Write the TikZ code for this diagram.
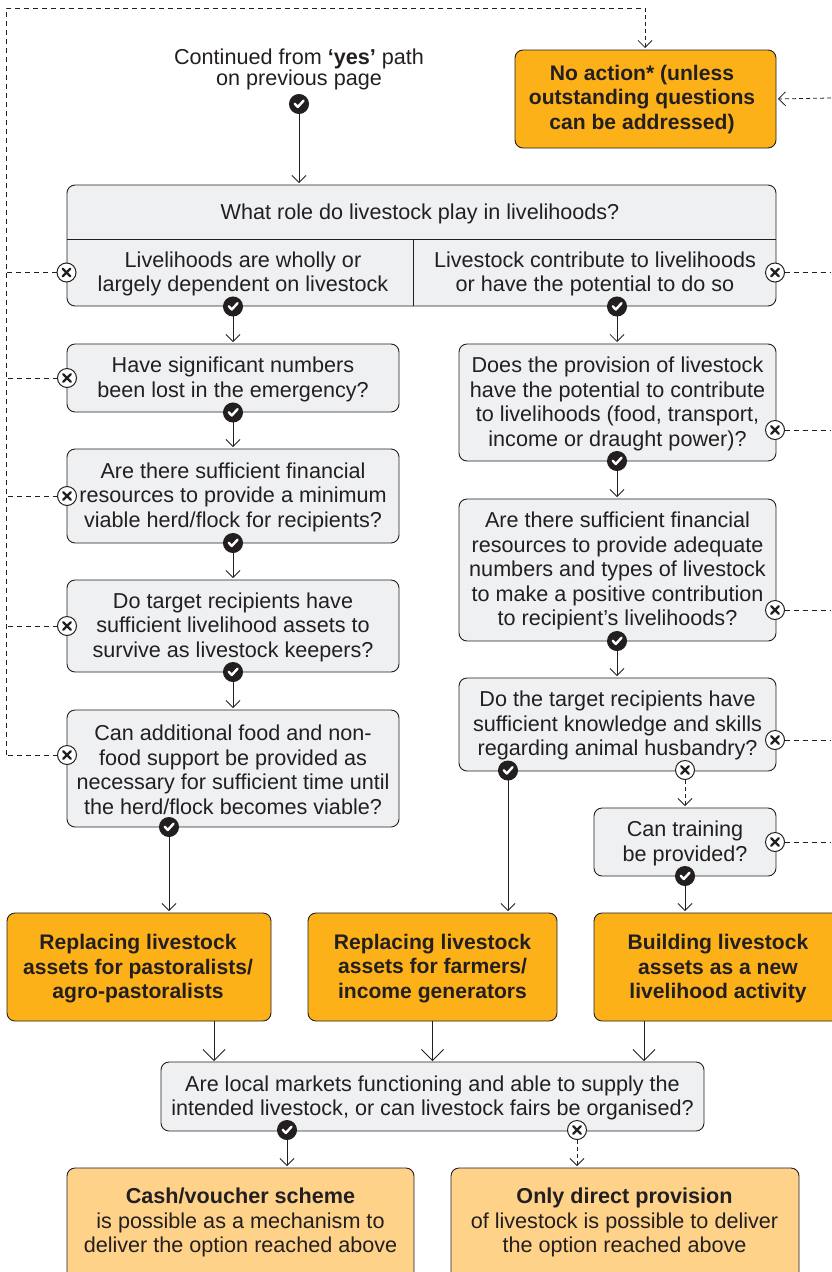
\documentclass[tikz,border=0pt]{standalone}
\usepackage{fontspec}
\setmainfont{Liberation Sans}
\usetikzlibrary{arrows.meta}
\definecolor{ink}{HTML}{231F20}
\definecolor{qfill}{HTML}{EFF0F2}
\definecolor{orangeA}{HTML}{FDB119}
\definecolor{orangeB}{HTML}{FFD28A}
\newcommand{\qbox}[7]{%
  \pgfmathsetmacro{\mycx}{(#3+#5)/2}\pgfmathsetmacro{\mycy}{(#4+#6)/2}%
  \pgfmathsetmacro{\mywd}{#5-#3}\pgfmathsetmacro{\myht}{#6-#4}%
  \node[#2,minimum width=\mywd pt,minimum height=\myht pt] (#1) at (\mycx,\mycy) {};
  \node[#2 text] (#1t) at ([yshift=-1.2pt]#1.center) {#7};}
\tikzset{
  txt/.style={font=\fontsize{21.6}{24.5}\selectfont,text=ink,align=center,inner sep=0pt,outer sep=0pt},
  boldtxt/.style={txt,font=\fontsize{21.1}{24.5}\selectfont\bfseries},
  boxbase/.style={draw=ink,line width=0.9pt,rounded corners=8pt,inner sep=0pt,outer sep=0pt},
  qbox/.style={boxbase,fill=qfill},
  qbox text/.style={txt},
  outA/.style={boxbase,fill=orangeA},
  outA text/.style={boldtxt},
  outB/.style={boxbase,fill=orangeB},
  outB text/.style={txt},
  mk/.style={circle,minimum size=19pt,inner sep=0pt,outer sep=0pt,line width=1pt},
  yesmk/.style={mk,draw=ink,fill=ink,path picture={
    \draw[white,line width=2.4pt,line cap=round,line join=round]
      ([shift={(-4.2pt,0.2pt)}]path picture bounding box.center) --
      ([shift={(-1.2pt,-3pt)}]path picture bounding box.center) --
      ([shift={(4.6pt,3.4pt)}]path picture bounding box.center);}},
  nomk/.style={mk,draw=ink,fill=white,path picture={
    \draw[ink,line width=2.2pt,line cap=round]
      ([shift={(-3.8pt,-3.8pt)}]path picture bounding box.center) --
      ([shift={(3.8pt,3.8pt)}]path picture bounding box.center)
      ([shift={(-3.8pt,3.8pt)}]path picture bounding box.center) --
      ([shift={(3.8pt,-3.8pt)}]path picture bounding box.center);}},
  yesline/.style={draw=ink,line width=0.9pt,-{Straight Barb[length=7pt,width=14pt,line width=0.8pt]},shorten >=2pt},
  bigline/.style={draw=ink,line width=0.9pt,-{Straight Barb[length=11pt,width=22pt,line width=0.8pt]},shorten >=1pt},
  noline/.style={draw=ink,line width=0.8pt,dash pattern=on 4pt off 3pt,-{Straight Barb[length=7pt,width=14pt,line width=0.8pt]},shorten >=2pt},
  rail/.style={draw=ink,line width=0.8pt,dash pattern=on 5pt off 4pt},
}
\begin{document}
\begin{tikzpicture}[x=1pt,y=-1pt]
\useasboundingbox (0,0) rectangle (831,1272);
% boxes
\qbox{noact}{outA}{515}{50}{776}{148}{}
\node[boldtxt] (noactx) at (642,99.5) {No action* (unless\\outstanding questions\\can be addressed)};
\node[txt] (start) at (299,69.5) {Continued from \textbf{‘yes’} path\\[-3.5pt]on previous page};
\qbox{main}{qbox}{67}{185}{776}{306}{}
\coordinate (divl) at (67,239);
\coordinate (divr) at (776,239);
\coordinate (divt) at (413,239);
\coordinate (divb) at (413,306);
\draw[ink,line width=0.9pt] (divl) -- (divr);
\draw[ink,line width=0.9pt] (divt) -- (divb);
\node[txt] (mainq) at (420,213.5) {What role do livestock play in livelihoods?};
\node[txt] (mainl) at (243,274) {Livelihoods are wholly or\\largely dependent on livestock};
\node[txt] (mainr) at (595,274) {Livestock contribute to livelihoods\\or have the potential to do so};
\qbox{L1}{qbox}{67}{344}{399}{412}{Have significant numbers\\been lost in the emergency?}
\qbox{L2}{qbox}{67}{449}{399}{543}{Are there sufficient financial\\resources to provide a minimum\\viable herd/flock for recipients?}
\qbox{L3}{qbox}{67}{580}{399}{672}{Do target recipients have\\sufficient livelihood assets to\\survive as livestock keepers?}
\qbox{L4}{qbox}{67}{710}{399}{827}{Can additional food and non-\\food support be provided as\\necessary for sufficient time until\\the herd/flock becomes viable?}
\qbox{R1}{qbox}{459}{344}{776}{461}{Does the provision of livestock\\have the potential to contribute\\to livelihoods (food, transport,\\income or draught power)?}
\qbox{R2}{qbox}{459}{499}{776}{641}{Are there sufficient financial\\resources to provide adequate\\numbers and types of livestock\\to make a positive contribution\\to recipient’s livelihoods?}
\qbox{R3}{qbox}{459}{678}{776}{771}{Do the target recipients have\\sufficient knowledge and skills\\regarding animal husbandry?}
\qbox{R4}{qbox}{594}{808}{776}{876}{Can training\\be provided?}
\qbox{O1}{outA}{7}{913}{271}{1021}{}
\node[boldtxt] (O1x) at (138,969) {Replacing livestock\\assets for pastoralists/\\agro-pastoralists};
\qbox{O2}{outA}{308}{913}{557}{1021}{Replacing livestock\\assets for farmers/\\income generators}
\qbox{O3}{outA}{594}{913}{844}{1021}{}
\node[boldtxt] (O3x) at (718,969) {Building livestock\\assets as a new\\livelihood activity};
\qbox{M}{qbox}{161}{1062}{704}{1131}{Are local markets functioning and able to supply the\\intended livestock, or can livestock fairs be organised?}
\qbox{C1}{outB}{67}{1168}{414}{1290}{}
\qbox{C2}{outB}{451}{1168}{799}{1290}{}
\node[txt] (C1x) at (240.5,1222.5) {\textbf{Cash/voucher scheme}\\is possible as a mechanism to\\deliver the option reached above};
\node[txt] (C2x) at (624.5,1222.5) {\textbf{Only direct provision}\\of livestock is possible to deliver\\the option reached above};
% markers
\node[yesmk] (ys) at (299,104) {};
\node[yesmk] (yml) at (233,306.5) {};
\node[yesmk] (ymr) at (617,306.5) {};
\node[yesmk] (yL1) at (233,412.5) {};
\node[yesmk] (yL2) at (233,543) {};
\node[yesmk] (yL3) at (233,672) {};
\node[yesmk] (yL4) at (169,827) {};
\node[yesmk] (yR1) at (617,461) {};
\node[yesmk] (yR2) at (617,641) {};
\node[yesmk] (yR3) at (508,770.5) {};
\node[yesmk] (yR4) at (685,876) {};
\node[yesmk] (yM) at (287,1130) {};
\node[nomk] (nml) at (66.5,272.5) {};
\node[nomk] (nmr) at (775,272.5) {};
\node[nomk] (nL1) at (67,378) {};
\node[nomk] (nL2) at (67,496) {};
\node[nomk] (nL3) at (67,626) {};
\node[nomk] (nL4) at (67,755) {};
\node[nomk] (nR1) at (775,430) {};
\node[nomk] (nR2) at (775,610) {};
\node[nomk] (nR3) at (775,740) {};
\node[nomk] (nR3b) at (685,770) {};
\node[nomk] (nR4) at (775,842) {};
\node[nomk] (nM) at (577,1130) {};
% free ends
\coordinate (tl) at (6,8);
\coordinate (tr) at (645,8);
\coordinate (lbot) at (6,755);
\coordinate (raila) at (6,272.5);
\coordinate (railb) at (6,378);
\coordinate (railc) at (6,496);
\coordinate (raild) at (6,626);
\coordinate (edgea) at (831,272.5);
\coordinate (edgeb) at (831,430);
\coordinate (edgec) at (831,610);
\coordinate (edged) at (831,740);
\coordinate (edgee) at (831,842);
\coordinate (edgef) at (831,98);
\coordinate (b1) at (214,1062);
\coordinate (b3) at (644,1062);
\coordinate (t1) at (214,1021);
\coordinate (t3) at (644,1021);
% yes arrows
\draw[yesline] (ys) -- (ys |- main.north);
\draw[yesline] (yml) -- (yml |- L1.north);
\draw[yesline] (ymr) -- (ymr |- R1.north);
\draw[yesline] (yL1) -- (yL1 |- L2.north);
\draw[yesline] (yL2) -- (yL2 |- L3.north);
\draw[yesline] (yL3) -- (yL3 |- L4.north);
\draw[yesline] (yL4) -- (yL4 |- O1.north);
\draw[yesline] (yR1) -- (yR1 |- R2.north);
\draw[yesline] (yR2) -- (yR2 |- R3.north);
\draw[yesline] (yR3) -- (yR3 |- O2.north);
\draw[yesline] (yR4) -- (yR4 |- O3.north);
\draw[yesline] (yM) -- (yM |- C1.north);
\draw[bigline] (t1) -- (b1);
\draw[bigline] (O2.south) -- (O2.south |- M.north);
\draw[bigline] (t3) -- (b3);
% no arrows
\draw[noline] (nR3b) -- (nR3b |- R4.north);
\draw[noline] (nM) -- (nM |- C2.north);
\draw[noline] (edgef) -- (noact.east);
\draw[rail] (lbot) -- (tl) -- (tr);
\draw[noline] (tr) -- (tr |- noact.north);
\draw[rail] (nL4) -- (lbot);
\draw[rail] (nml) -- (raila);
\draw[rail] (nL1) -- (railb);
\draw[rail] (nL2) -- (railc);
\draw[rail] (nL3) -- (raild);
\draw[rail] (nmr) -- (edgea);
\draw[rail] (nR1) -- (edgeb);
\draw[rail] (nR2) -- (edgec);
\draw[rail] (nR3) -- (edged);
\draw[rail] (nR4) -- (edgee);
\end{tikzpicture}
\end{document}
